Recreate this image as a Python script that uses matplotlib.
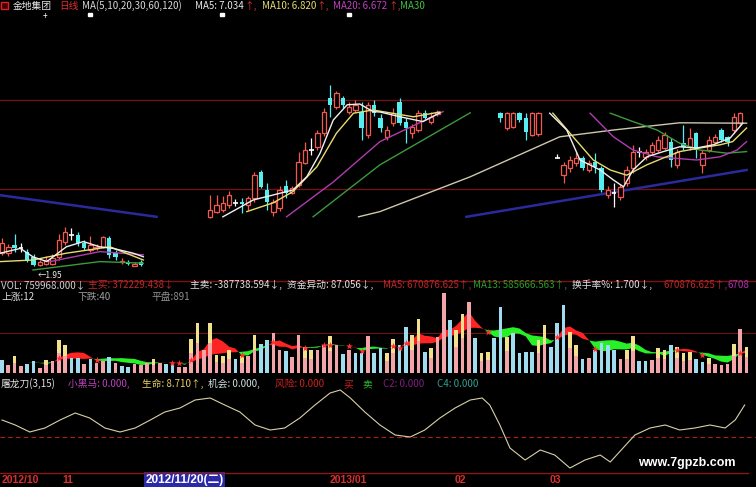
import numpy as np
import pandas as pd
import matplotlib
matplotlib.use("Agg")
import matplotlib.pyplot as plt
from matplotlib.patches import Rectangle

plt.rcParams['font.family'] = ['Noto Sans CJK SC', 'DejaVu Sans']

W, H = 756, 487
N = None

# ---------------- price data (OHLC), None = not shown ----------------
opens = [2.275, 2.275, 2.475, 2.4, 2.3, 2.175, 1.975, 2.0, 2.0, 2.175, 2.55, 2.725, 2.725, 2.525, 2.35, 2.4, 2.425, 2.65, 2.275, 2.05, 2.05, 1.95, 2.05,
         N, N, N, N, N, N, N, N, N, N,
         3.175, 3.3, 3.35, 3.475, 3.525, 3.55, 3.475, 3.65, 4.3, 3.85, 3.3, 3.4, 3.95, 3.775, 3.975, 4.525, 4.85, 4.925, 5.275, 6.15, 5.925, 6.15, 5.8, 5.85, 5.8, 5.225, 5.975, 5.65, 5.175, 5.525, 6.05, 5.55, 5.275, 5.35, 5.775, 5.55, 5.75,
         N, N, N, N, N, N, N, N, N,
         5.775, 5.4, 5.425, 5.775, 5.65, 5.225, 5.25,
         N, N,
         4.65, 4.225, 4.4, 4.525, 4.65, 4.35, 4.55, 4.4, 3.725, 3.775, 3.675, 4.025, 4.4, 4.8, 4.675, 4.8, 4.85, 4.9, 5.05, 4.475, 5.025, 4.925, 5.275, 4.475, 4.85, 5.05, 5.35, 5.175, 5.35, 5.525,
         N]
highs = [2.65, 2.5, 2.75, 2.525, 2.375, 2.25, 2.1, 2.2, 2.25, 2.75, 2.925, 2.9, 2.8, 2.6, 2.7, 2.5, 2.7, 2.7, 2.35, 2.15, 2.1, 2.05, 2.1,
         N, N, N, N, N, N, N, N, N, N,
         3.725, 3.725, 3.7, 3.825, 3.625, 3.65, 3.7, 4.3, 4.35, 4.025, 3.625, 3.95, 4.1, 3.95, 4.8, 5.05, 5.15, 5.35, 5.9, 6.475, 6.325, 6.2, 6.05, 6.1, 6.05, 6.05, 6.1, 5.75, 5.45, 5.9, 6.15, 5.65, 5.5, 5.85, 5.85, 5.8, 5.85,
         N, N, N, N, N, N, N, N, N,
         5.8, 5.8, 5.8, 5.8, 5.775, 5.8, 5.8,
         N, N,
         4.75, 4.55, 4.7, 4.8, 4.7, 4.6, 4.775, 4.45, 3.95, 4.025, 4.0, 4.45, 4.975, 4.925, 4.875, 5.05, 5.2, 5.3, 5.15, 4.875, 5.475, 5.4, 5.3, 4.85, 5.2, 5.25, 5.4, 5.2, 5.775, 5.8,
         N]
lows = [2.225, 2.2, 2.3, 2.3, 2.05, 1.95, 1.95, 1.975, 1.975, 2.1, 2.475, 2.6, 2.45, 2.35, 2.3, 2.35, 2.4, 2.15, 2.1, 2.0, 1.975, 1.95, 1.95,
        N, N, N, N, N, N, N, N, N, N,
        3.15, 3.275, 3.3, 3.4, 3.45, 3.275, 3.35, 3.55, 3.9, 3.35, 3.2, 3.325, 3.65, 3.75, 3.925, 4.5, 4.725, 4.85, 5.2, 5.675, 5.875, 5.9, 5.75, 5.8, 5.1, 5.15, 5.7, 5.3, 5.1, 5.45, 5.475, 5.025, 5.15, 5.3, 5.6, 5.5, 5.7,
        N, N, N, N, N, N, N, N, N,
        5.55, 5.35, 5.4, 5.55, 5.1, 5.2, 5.2,
        N, N,
        4.65, 4.025, 4.3, 4.45, 4.35, 4.3, 4.275, 3.8, 3.65, 3.425, 3.6, 3.95, 4.275, 4.675, 4.6, 4.75, 4.8, 4.85, 4.425, 4.4, 4.85, 4.85, 4.65, 4.275, 4.8, 5.0, 5.05, 4.95, 5.275, 5.45,
        N]
closes = [2.525, 2.425, 2.4, 2.4, 2.1, 1.975, 2.05, 2.1, 2.15, 2.6, 2.8, 2.725, 2.525, 2.4, 2.475, 2.425, 2.675, 2.225, 2.175, 2.075, 2.0, 2.0, 1.975,
          N, N, N, N, N, N, N, N, N, N,
          3.35, 3.475, 3.525, 3.725, 3.525, 3.5, 3.65, 4.225, 3.925, 3.55, 3.55, 3.85, 3.775, 3.9, 4.55, 4.85, 4.85, 5.275, 5.8, 5.975, 6.275, 5.975, 5.925, 5.975, 5.4, 5.975, 5.775, 5.4, 5.35, 5.775, 5.525, 5.4, 5.425, 5.775, 5.65, 5.675, 5.8,
          N, N, N, N, N, N, N, N, N,
          5.65, 5.775, 5.775, 5.6, 5.3, 5.775, 5.775,
          N, N,
          4.65, 4.475, 4.6, 4.65, 4.4, 4.525, 4.425, 3.85, 3.85, 3.775, 3.925, 4.35, 4.8, 4.8, 4.8, 4.975, 5.1, 5.225, 4.6, 4.8, 4.925, 5.15, 4.85, 4.775, 5.1, 5.175, 5.1, 5.05, 5.675, 5.775,
          N]

# moving-average traces (bar index, price); None breaks the line
ma5_x = [-0.3, 2.9, 4.9, 7.1, 10.2, 12.9, 15.5, 17.6, 20.8, 22.4, N,
         35, 39.8, 46.1, 48.3, 50.4, 52.5, 54.7, 56.7, 58.8, 59.9, 63.1, 66.7, 69.4, N,
         86.8, 89.5, 91.6, 94.8, 96.9, 98.5, 100, 102.2, 104.8, 107.4, 110.1, 112.7, 115.4, 117.4]
ma5_y = [2.27, 2.39, 2.18, 2.06, 2.43, 2.56, 2.43, 2.39, 2.27, 2.18, N,
         3.18, 3.6, 3.85, 4.18, 4.77, 5.6, 5.98, 6.0, 5.81, 5.8, 5.68, 5.56, 5.78, N,
         5.77, 5.35, 4.6, 4.35, 4.1, 3.93, 4.35, 4.68, 4.81, 4.93, 4.9, 4.98, 5.15, 5.52]
ma10_x = [-0.3, 4.9, 10.2, 17.1, 22.4, N,
          38.8, 43, 46.1, 49.9, 53, 55.7, 58.8, 65.2, 69.4, N,
          87.3, 90.5, 93.7, 96.4, 99, 102.2, 104.8, 107.4, 110.6, 113.8, 115.8, 118]
ma10_y = [2.06, 2.1, 2.27, 2.43, 2.1, N,
          3.31, 3.53, 3.81, 4.43, 5.27, 5.77, 5.85, 5.68, 5.8, N,
          5.77, 5.18, 4.6, 4.35, 4.22, 4.48, 4.65, 4.81, 4.9, 4.98, 5.06, 5.4]
ma20_x = [7.6, 15.5, 22.4, N, 45.1, 52.5, 59.9, 69.9, N,
          93.2, 96.9, 100, 103.8, 110.1, 113.8, 116.5, 118]
ma20_y = [2.06, 2.31, 2.23, N, 3.18, 4.05, 5.06, 5.81, N,
          5.77, 5.18, 4.85, 4.68, 4.6, 4.68, 4.85, 5.06]
ma30_x = [4.9, 15.5, 22.4, N, 49.3, 59.9, 74.2, N,
          96.4, 100, 103.8, 107.4, 110.6, 114.9, 118]
ma30_y = [1.85, 2.06, 2.02, N, 3.18, 4.48, 5.78, N,
          5.77, 5.56, 5.35, 5.02, 4.85, 4.77, 4.81]
ma60_x = [56.5, 59.9, 74.2, 88.4, 96.9, 107.4, 118]
ma60_y = [3.18, 3.31, 4.18, 5.18, 5.35, 5.53, 5.52]
ma120_x = [-0.3, 24.5, N, 73.6, 118]
ma120_y = [3.72, 3.18, N, 3.18, 4.35]

# ---------------- volume (10k shares) ----------------
volumes = [38, 24, 49, 21, 27, 35, 14, 38, 36, 95, 81, 43, 45, 27, 40, 29, 35, 46, 29, 21,
           19, 26, 24, 30, 40, 30, 27, 27, 19, 19, 97, 143, 67, 145, 52, 49, 67, 40, 49, 49,
           109, 84, 95, 114, 68, 64, 48, 109, 74, 68, 68, 81, 107, 81, 54, 67, 59, 59, 107, 59,
           71, 57, 97, 81, 131, 109, 154, 62, 71, 105, 230, 152, 124, 169, 204, 100, 59, 62, 100, 190,
           105, 114, 57, 62, 62, 95, 138, 74, 144, 195, 119, 81, 40, 43, 68, 86, 81, 67, 40, 67,
           106, 36, 36, 38, 71, 67, 81, 74, 57, 62, 40, 33, 43, 27, 24, 27, 84, 128, 76]
vol_kind = ("cpypccpypyyccpcppcpc"
            "cpppypccppyypyyyycyp"
            "yccppcppyyppypcpccpc"
            "cyyccyycypp" "cyypcyycc"
            "yccccyycccyycpccccpy"
            "yccpyycyyyccypppypy")

# ---------------- indicator (屠龙刀) trace ----------------
ind_x = [0, 2.1, 4.4, 6.8, 9.2, 11.6, 13.9, 16.3, 18.7, 21.1, 23.5, 25.8, 28.2, 30.6, 33, 35.3,
         37.7, 40.1, 42.5, 44.8, 47.2, 49.6, 52, 53.6, 55.2, 57.5, 59.9, 62.3, 64.7, 67, 69.4,
         71.8, 74.2, 76.1, 77.3, 78.9, 80.5, 82.9, 85.3, 87.6, 90, 92.4, 94.8, 96.4, 100.3,
         102.7, 105.1, 107.4, 109.8, 112.2, 114.6, 116.2, 117.7]
ind_y = [50, 45, 38, 42, 50, 57, 52, 42, 38, 42, 50, 58, 62, 70, 72, 65,
         58, 45, 40, 42, 52, 65, 77, 80, 72, 58, 45, 35, 33, 40, 52,
         62, 70, 72, 65, 45, 22, 10, 20, 15, 2, 10, 15, 8, 35,
         42, 45, 40, 42, 45, 42, 50, 65]
ind_level = 33

# ---------------- axis labels ----------------
date_labels = ["2012/10", "11", "2012/11/20(二)", "2013/01", "02", "03"]
date_idx = [0, 9.5, 22.7, 52, 71.8, 86.8]

price_grid = [6.1, 3.875]
vol_grid = [115]

# ---------------- styling ----------------
RED = '#f05a50'
CYAN = '#55eef0'
GRID = '#6e1414'
BG = 'black'

fig = plt.figure(figsize=(W / 100, H / 100), dpi=100, facecolor=BG)


def rect(x0, y0, x1, y1):
    return [x0 / W, 1 - y1 / H, (x1 - x0) / W, (y1 - y0) / H]


XL = (-2 / 6.31, (W - 2) / 6.31)
axp = fig.add_axes(rect(0, 12, W, 275))
axv = fig.add_axes(rect(0, 280, W, 373.3))
axi = fig.add_axes(rect(0, 385, W, 470))
for ax in (axp, axv, axi):
    ax.set_xlim(*XL)
    ax.axis('off')
axp.set_ylim(1.725, 8.3)
axv.set_ylim(0, 266.8)
axi.set_ylim(0, 85)

# ----- price panel -----
o = np.array(opens, dtype=float)
h = np.array(highs, dtype=float)
l = np.array(lows, dtype=float)
c = np.array(closes, dtype=float)
idx = np.arange(len(o))
ok = ~np.isnan(o)
up = ok & (c > o)
dn = ok & (c < o)
dj = ok & (c == o)

for g in price_grid:
    axp.axhline(g, color=GRID, lw=1.0, zorder=0)

axp.vlines(idx[up], l[up], h[up], color=RED, lw=0.9, zorder=2)
axp.vlines(idx[dn], l[dn], h[dn], color=CYAN, lw=0.9, zorder=2)
axp.vlines(idx[dj], l[dj], h[dj], color='white', lw=0.9, zorder=2)
axp.bar(idx[up], (c - o)[up], bottom=o[up], width=0.7, facecolor=BG,
        edgecolor=RED, lw=0.9, zorder=3)
axp.bar(idx[dn], (o - c)[dn], bottom=c[dn], width=0.7, color=CYAN, lw=0, zorder=3)
axp.hlines(c[dj], idx[dj] - 0.38, idx[dj] + 0.38, color='white', lw=1.2, zorder=3)


def arr(v):
    return np.array(v, dtype=float)


axp.plot(arr(ma120_x), arr(ma120_y), color='#2a2a9c', lw=1.8, zorder=1)
axp.plot(arr(ma60_x), arr(ma60_y), color='#cfc8aa', lw=1.0, zorder=4)
axp.plot(arr(ma30_x), arr(ma30_y), color='#3c9a3c', lw=1.0, zorder=4)
axp.plot(arr(ma20_x), arr(ma20_y), color='#b03cb0', lw=1.0, zorder=4)
axp.plot(arr(ma10_x), arr(ma10_y), color='#e8dc70', lw=1.0, zorder=4)
axp.plot(arr(ma5_x), arr(ma5_y), color='#f0f0f0', lw=1.0, zorder=4)

# ----- volume panel -----
vol = np.array(volumes, dtype=float)
vidx = np.arange(len(vol))
s = pd.Series(vol)
m5 = s.rolling(5, min_periods=1).mean().values
m13 = s.rolling(13, min_periods=1).mean().values
for g in vol_grid:
    axv.axhline(g, color=GRID, lw=0.8, zorder=0)
axv.fill_between(vidx, m5, m13, where=m5 >= m13, interpolate=True, color='#ff2424', lw=0, zorder=1)
axv.fill_between(vidx, m5, m13, where=m5 < m13, interpolate=True, color='#28f028', lw=0, zorder=1)
kinds = np.array(list(vol_kind))
PINK, LBLUE, YEL = '#f2a4a8', '#9fdcf0', '#f2e08c'
mp = kinds == 'p'
mc = kinds == 'c'
my = kinds == 'y'
BW = 0.58
axv.bar(vidx[mp], vol[mp], width=BW, color=PINK, lw=0, zorder=2)
axv.bar(vidx[mc], vol[mc], width=BW, color=LBLUE, lw=0, zorder=2)
axv.bar(vidx[my], vol[my] * 0.6, width=BW, color=PINK, lw=0, zorder=2)
axv.bar(vidx[my], vol[my] * 0.4, bottom=vol[my] * 0.6, width=BW, color=YEL, lw=0, zorder=2)
sign = np.sign(m5 - m13)
cross = np.where((sign[1:] != sign[:-1]) & (sign[1:] != 0) & (sign[:-1] != 0))[0] + 1
axv.scatter(vidx[cross], m5[cross], marker='*', s=26, color='#ff3030', zorder=3, lw=0)

# ----- indicator panel -----
axi.axhline(ind_level, color='#b02020', lw=0.8, ls=(0, (4, 3)), zorder=0)
axi.plot(arr(ind_x), arr(ind_y), color='#d8d0a8', lw=0.8, zorder=2)

# ----- overlay for headers / separators -----
ov = fig.add_axes([0, 0, 1, 1], zorder=10)
ov.set_xlim(0, W)
ov.set_ylim(H, 0)
ov.axis('off')
ov.patch.set_alpha(0)

ov.plot([0, 756], [281, 281], color='#7a1414', lw=1.0)
ov.plot([0, 748], [473, 473], color='#8a1818', lw=1.0)

FS = 7


def t(x, y, s, col, **kw):
    ov.text(x, y, s, color=col, fontsize=kw.pop('fs', FS), va='center', ha='left', **kw)


# top header
ov.add_patch(Rectangle((1, 2), 7, 7, facecolor='#400000', edgecolor='#e02020', lw=1.0))
t(13, 6, "金地集团", '#e8e8e8')
t(59, 6, "日线", '#e03030')
t(82, 6, "MA(5,10,20,30,60,120)", '#d8d8d8')
t(195, 6, "MA5: 7.034", '#e8e8e8')
t(244, 6, "↑,", '#e03030')
t(262, 6, "MA10: 6.820", '#e8dc70')
t(316, 6, "↑,", '#e03030')
t(333, 6, "MA20: 6.672", '#c040c0')
t(388, 6, "↑,", '#e03030')
t(400, 6, "MA30", '#40c040')
t(43, 16, "+", 'white', fs=6)
for xm in (90, 222, 349):
    ov.add_patch(Rectangle((xm - 2, 13), 4, 3, color='white'))

# low marker
t(38, 275, "←1.95", '#e8e8e8', fs=6)

# volume header
t(1, 285, "VOL: 759968.000↓", '#d0d0d0')
t(88, 285, "主买: 372229.438↓", '#c02828')
t(190, 285, "主卖: -387738.594↓,", '#e0e0e0')
t(287, 285, "资金异动: 87.056↓,", '#e0e0e0')
t(383, 285, "MA5: 670876.625↑,", '#c02828')
t(473, 285, "MA13: 585666.563↑,", '#28a028')
t(572, 285, "换手率%: 1.700↓,", '#e0e0e0')
t(663, 285, "670876.625↑,", '#c02828')
t(728, 285, "6708", '#b030b0')
t(1, 297, "上涨:12", '#e0e0e0')
t(77, 297, "下跌:40", '#a0a0a0')
t(152, 297, "平盘:891", '#909090')

# indicator header
t(1, 384, "屠龙刀(3,15)", '#e0e0e0')
t(68, 384, "小黑马: 0.000,", '#c040c0')
t(142, 384, "生命: 8.710↑,", '#e8d060')
t(208, 384, "机会: 0.000,", '#d0e0e0')
t(275, 384, "风险: 0.000", '#d02020')
t(343, 384, "买", '#d02020')
t(362, 384, "卖", '#30c030')
t(383, 384, "C2: 0.000", '#802080')
t(437, 384, "C4: 0.000", '#30a090')

# date axis labels
xt = axi.get_xaxis_transform()
for lab, xi in zip(date_labels, date_idx):
    if '(' in lab:
        axi.text(xi, -0.115, lab, transform=xt, color='white', fontsize=8.5, fontweight='bold',
                 family=['Liberation Sans', 'Noto Sans CJK SC'], va='center', ha='left',
                 bbox=dict(boxstyle='square,pad=0.12', facecolor='#2a2aa8', edgecolor='none'),
                 clip_on=False)
    else:
        axi.text(xi, -0.115, lab, transform=xt, color='#d83030', fontsize=7.5, fontweight='bold',
                 family=['Liberation Sans'], va='center', ha='left', clip_on=False)

ov.text(638, 463, "www.7gpzb.com", color='white', fontsize=9, fontweight='bold',
        family=['Liberation Sans'], va='center', ha='left')

fig.savefig('out.png', dpi=100, facecolor=BG)
